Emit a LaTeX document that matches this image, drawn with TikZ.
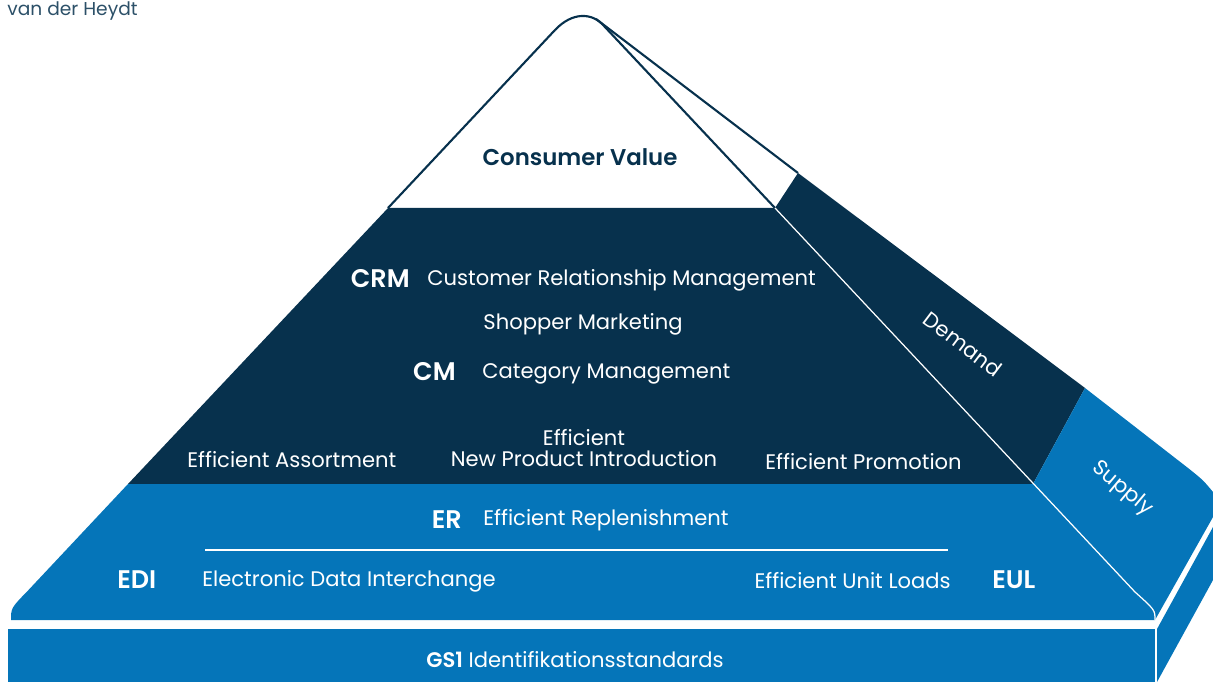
\documentclass[tikz,border=0pt]{standalone}
\usepackage{fontspec}
\setmainfont{Poppins}[BoldFont={Poppins SemiBold}]
\definecolor{navy}{RGB}{7,49,77}
\definecolor{ecrblue}{RGB}{5,117,185}
\begin{document}
\begin{tikzpicture}[x=0.02cm, y=-0.02cm,
    txt/.style={text=white, inner sep=0pt, font=\fontsize{12}{12}\selectfont},
    txtb/.style={txt, font=\fontsize{14.5}{15}\selectfont\bfseries}]
  \useasboundingbox (0,0) rectangle (1213,682);
  % dark band and demand side
  \fill[navy] (388,208) -- (775,208) -- (798,173) -- (1085,388) -- (1033,484) -- (128,484) -- cycle;
  % blue band and supply side
  \fill[ecrblue] (128,484) -- (1033,484) -- (1085,388) -- (1188,468) .. controls (1203,480) .. (1213,492)
    -- (1213,517) -- (1155,620) -- (11,620) .. controls (11,608) .. (28.5,590) -- cycle;
  % base
  \fill[ecrblue] (8,629) rectangle (1155,682);
  \fill[ecrblue] (1157,629) -- (1213,527) -- (1213,580) -- (1157,682) -- cycle;
  % edges
  \draw[navy, line width=1.2pt] (388,208) -- (555,30) .. controls (572,12) and (592,12) .. (604,26) -- (775,208);
  \coordinate (top) at (596,19);
  \draw[navy, line width=1.2pt] (top) -- (798,173);
  \draw[white, line width=0.7pt] (775,208) -- (1135,592) .. controls (1155,610) .. (1155,620);
  \draw[white, line width=0.8pt] (205,550) -- (948,550);

  \node[anchor=base west, inner sep=0pt, text=navy!85, font=\fontsize{10.6}{12}\selectfont] (author) at (7,16) {van der Heydt};
  \node[txtb, text=navy, font=\fontsize{13}{15}\selectfont\bfseries] (cv) at (580,157) {Consumer Value};
  \node[txtb, anchor=east] (crm) at (410,279) {CRM};
  \node[txt, anchor=west] (crmtext) at (427,280) {Customer Relationship Management};
  \node[txt] (shopper) at (583,324) {Shopper Marketing};
  \node[txtb, anchor=east] (cm) at (456,372) {CM};
  \node[txt, anchor=west] (cmtext) at (482,374) {Category Management};
  \node[txt, anchor=west] (assort) at (187,460) {Efficient Assortment};
  \node[txt, align=center] (npi) at (584,448) {Efficient\\New Product Introduction};
  \node[txt, anchor=west] (promo) at (765,462) {Efficient Promotion};
  \node[txt, rotate=-37] (demand) at (963,344) {Demand};
  \node[txt, rotate=-40] (supply) at (1122,489) {Supply};
  \node[txtb, anchor=east] (er) at (462,520) {ER};
  \node[txt, anchor=west] (ertext) at (483,520) {Efficient Replenishment};
  \node[txtb, anchor=west] (edi) at (117,580) {EDI};
  \node[txt, anchor=west] (editext) at (202,581) {Electronic Data Interchange};
  \node[txt, anchor=east] (eultext) at (951,581) {Efficient Unit Loads};
  \node[txtb, anchor=west] (eul) at (992,580) {EUL};
  \node[txt] (gs1) at (575,660) {\textbf{GS1} Identifikationsstandards};
\end{tikzpicture}
\end{document}
